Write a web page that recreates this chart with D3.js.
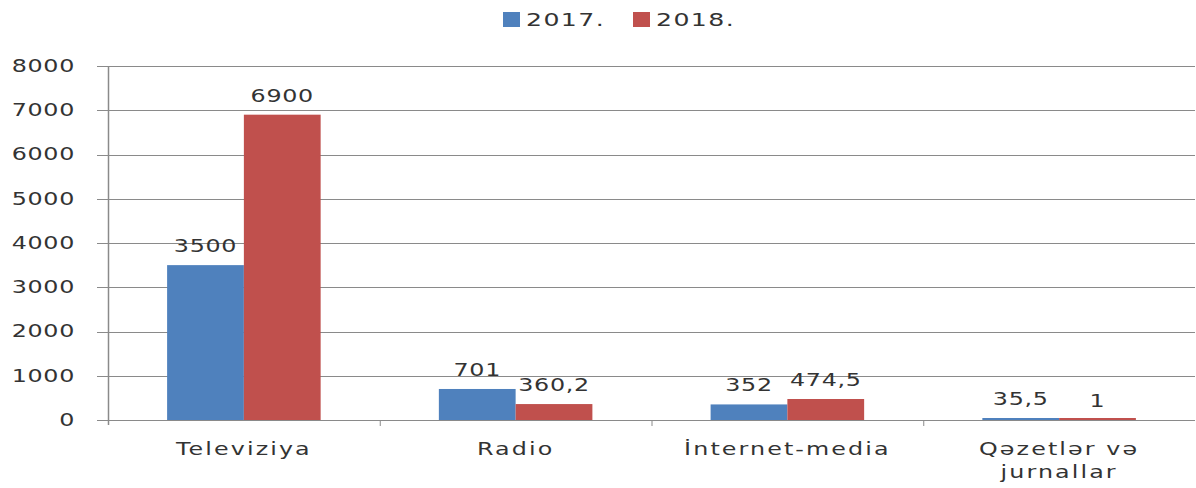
<!DOCTYPE html>
<html>
<head>
<meta charset="utf-8">
<script src="https://cdn.jsdelivr.net/npm/d3@7"></script>
<style>
  body { margin: 0; background: #fff; }
  text { font-family: "DejaVu Sans", Verdana, sans-serif; fill: #333; }
</style>
</head>
<body>
<div id="chart"></div>
<script>
var categories = ["Televiziya", "Radio", "İnternet-media", "Qəzetlər və|jurnallar"];
var seriesNames = ["2017.", "2018."];
var values2017 = [3500, 701, 352, 35.5];
var values2018 = [6900, 360.2, 474.5, 1];
var labels2017 = ["3500", "701", "352", "35,5"];
var labels2018 = ["6900", "360,2", "474,5", "1"];
var yTicks = [0, 1000, 2000, 3000, 4000, 5000, 6000, 7000, 8000];
var colors = ["#4f81bd", "#c0504d"];

var width = 1196, height = 488;
var margin = {top: 66, right: 1, bottom: 68, left: 108};
var sx = 1.4; // the picture is stretched sideways, so is the text

var svg = d3.select("#chart").append("svg")
    .attr("width", width)
    .attr("height", height);

// move x/y into a transform and widen the glyphs
function stretch(sel) {
    sel.each(function () {
        var t = d3.select(this);
        var x = +t.attr("x") || 0, y = +t.attr("y") || 0;
        t.attr("x", 0).attr("y", 0)
            .attr("transform", "translate(" + x + "," + y + ") scale(" + sx + ",1)");
    });
}

var x0 = d3.scaleBand()
    .domain(categories)
    .range([margin.left, width - margin.right])
    .paddingInner(0)
    .paddingOuter(0);

var x1 = d3.scaleBand()
    .domain(seriesNames)
    .range([0, x0.bandwidth()])
    .paddingInner(0)
    .paddingOuter(0.77);

var y = d3.scaleLinear()
    .domain([0, 8000])
    .range([height - margin.bottom, margin.top]);

// gridlines
svg.append("g")
    .selectAll("line")
    .data(yTicks)
    .enter()
    .append("line")
    .attr("x1", margin.left - 11)
    .attr("x2", width - margin.right)
    .attr("y1", function (d) {return Math.round(y(d)) + 0.5;})
    .attr("y2", function (d) {return Math.round(y(d)) + 0.5;})
    .attr("stroke", "#8a8a8a")
    .attr("stroke-width", 1.2);

// y axis labels
var yAxis = d3.axisLeft(y).tickValues(yTicks).tickFormat(d3.format("d")).tickSize(0).tickPadding(33);
svg.append("g")
    .attr("transform", "translate(" + margin.left + ",0)")
    .call(yAxis)
    .call(function (g) {
        g.select(".domain").remove();
        g.selectAll("text")
            .style("font-size", "17px")
            .style("letter-spacing", "0.5px")
            .attr("fill", "#333")
            .call(stretch);
    });

var rows = categories.map(function (c, i) {
    return {cat: c, vals: [
        {s: seriesNames[0], v: values2017[i], label: labels2017[i]},
        {s: seriesNames[1], v: values2018[i], label: labels2018[i]}
    ]};
});

var groups = svg.selectAll(".grp")
    .data(rows)
    .enter()
    .append("g")
    .attr("class", "grp")
    .attr("transform", function (d) {return "translate(" + x0(d.cat) + ",0)";});

groups.selectAll("rect")
    .data(function (d) {return d.vals;})
    .enter()
    .append("rect")
    .attr("x", function (d) {return x1(d.s);})
    .attr("width", x1.bandwidth())
    .attr("y", function (d) {return Math.min(y(d.v), y(0) - 2);})
    .attr("height", function (d) {return Math.max(y(0) - y(d.v), 2);})
    .attr("fill", function (d, i) {return colors[i];});

groups.selectAll(".vlabel")
    .data(function (d) {return d.vals;})
    .enter()
    .append("text")
    .attr("class", "vlabel")
    .attr("x", function (d) {return x1(d.s) + x1.bandwidth() / 2;})
    .attr("y", function (d) {return y(d.v) - 13;})
    .attr("text-anchor", "middle")
    .style("font-size", "17px")
    .style("letter-spacing", "0.5px")
    .text(function (d) {return d.label;})
    .call(stretch);

// y axis line
svg.append("line")
    .attr("x1", margin.left + 0.5)
    .attr("x2", margin.left + 0.5)
    .attr("y1", margin.top)
    .attr("y2", y(0) + 5)
    .attr("stroke", "#8a8a8a")
    .attr("stroke-width", 1.5);

// x axis category ticks
svg.append("g")
    .selectAll("line")
    .data(categories.slice(1))
    .enter()
    .append("line")
    .attr("x1", function (d) {return x0(d) + 0.5;})
    .attr("x2", function (d) {return x0(d) + 0.5;})
    .attr("y1", y(0))
    .attr("y2", y(0) + 6)
    .attr("stroke", "#8a8a8a");

// category labels
var catLabels = svg.append("g")
    .selectAll("text")
    .data(categories)
    .enter()
    .append("text")
    .attr("x", function (d) {return x0(d) + x0.bandwidth() / 2;})
    .attr("y", y(0) + 35)
    .attr("text-anchor", "middle")
    .style("font-size", "17px")
    .style("letter-spacing", "1.5px");

catLabels.selectAll("tspan")
    .data(function (d) {return d.split("|");})
    .enter()
    .append("tspan")
    .attr("x", 0)
    .attr("dy", function (d, i) {return i === 0 ? 0 : 23;})
    .text(function (d) {return d;});

catLabels.call(stretch);

// legend
var legend = svg.append("g")
    .selectAll("g")
    .data(seriesNames)
    .enter()
    .append("g")
    .attr("transform", function (d, i) {return "translate(" + (503 + i * 130) + ",12)";});

legend.append("rect")
    .attr("width", 17)
    .attr("height", 15)
    .attr("fill", function (d, i) {return colors[i];});

legend.append("text")
    .attr("x", 23)
    .attr("y", 14)
    .style("font-size", "18px")
    .style("letter-spacing", "1px")
    .text(function (d) {return d;})
    .call(stretch);
</script>
</body>
</html>
